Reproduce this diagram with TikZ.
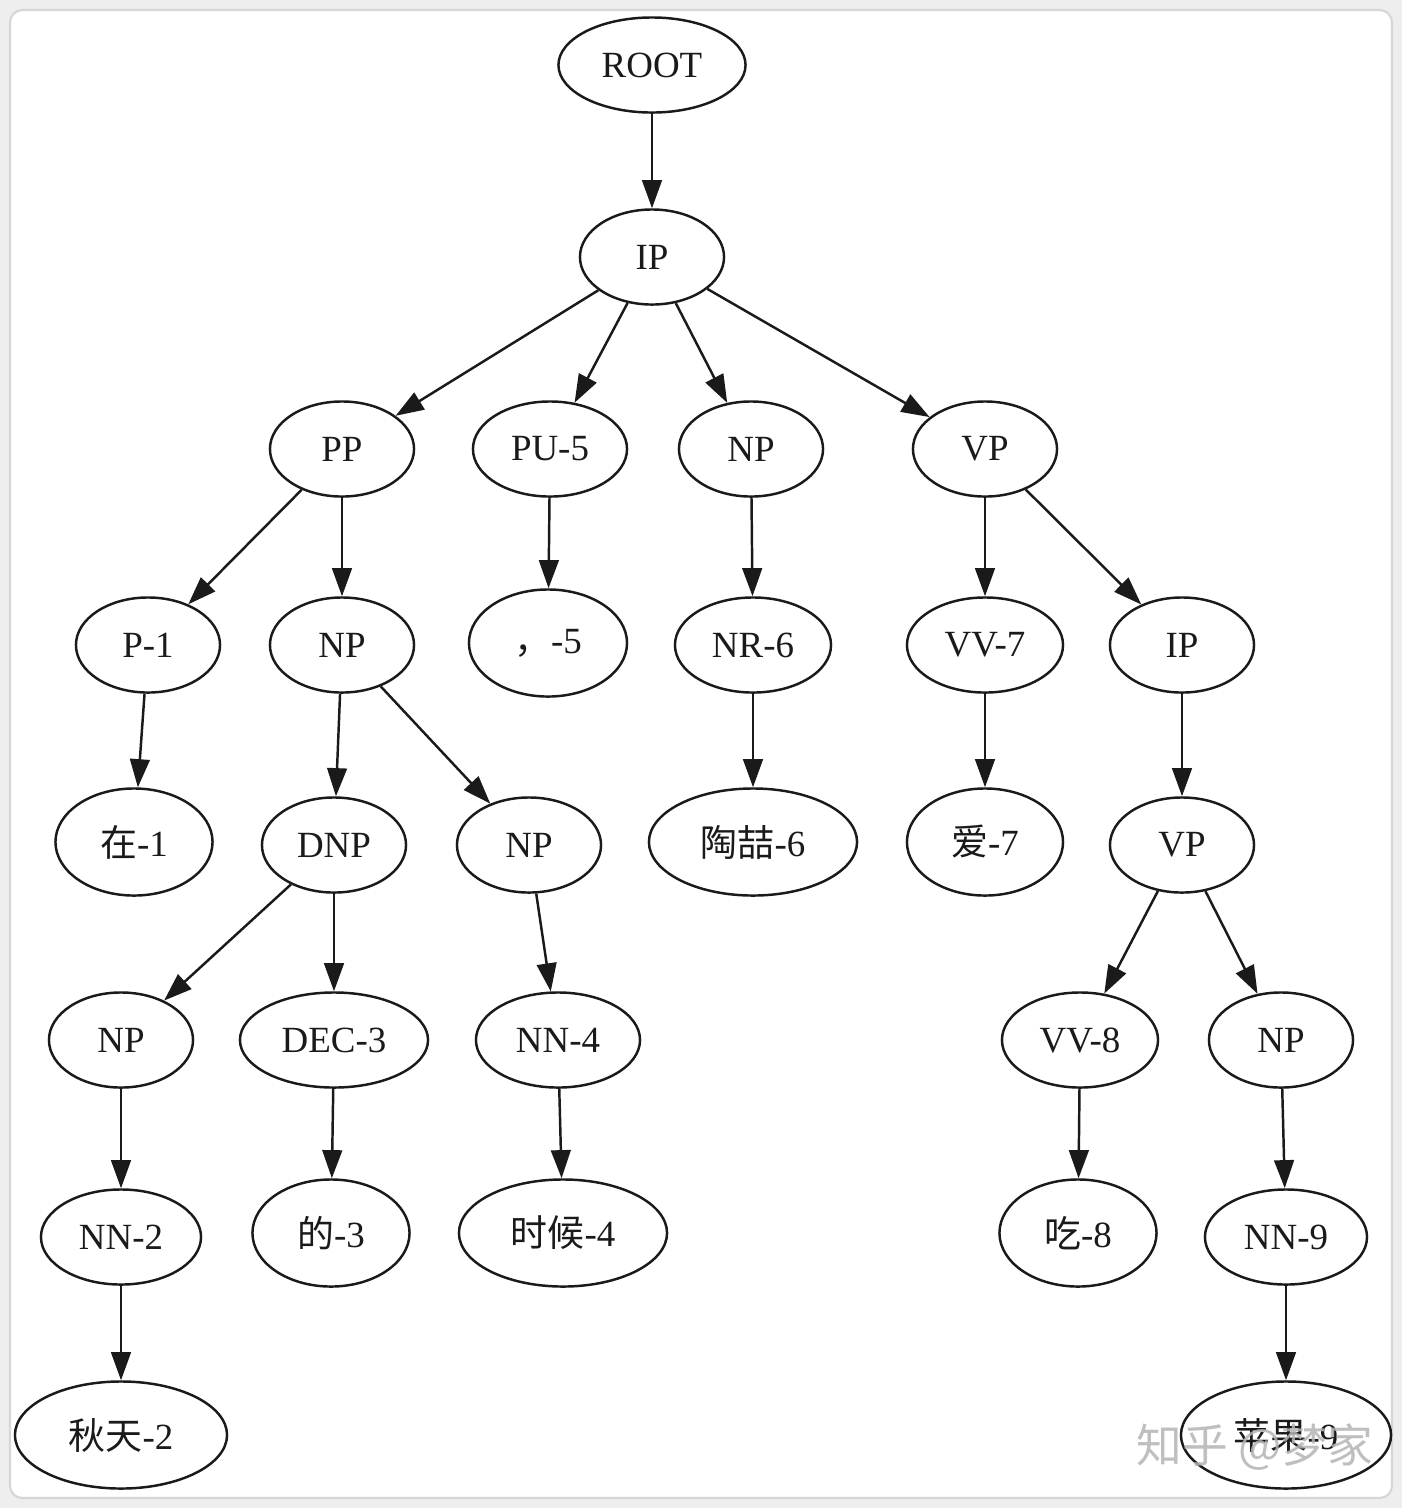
\documentclass[tikz,border=0pt]{standalone}
\usepackage{fontspec}
\setmainfont{Liberation Serif}
\newfontfamily\cjk{Noto Sans CJK SC}
\usetikzlibrary{shapes.geometric, arrows.meta}
\definecolor{psInk}{HTML}{1A1A1A}
\definecolor{psFrame}{HTML}{D6D6D6}
\definecolor{psShade}{HTML}{EEEEEE}
\definecolor{psMark}{HTML}{B4B4B4}
\tikzset{
  psnode/.style={ellipse, draw=psInk, line width=0.7pt, fill=white, text=psInk,
                 inner sep=0pt, minimum width=1.44cm, minimum height=0.95cm,
                 font=\fontsize{10.5}{12}\selectfont},
  psword/.style={psnode, minimum height=1.07cm},
  psflow/.style={-{Triangle[length=8pt, width=5.6pt]}, line width=0.7pt, color=psInk},
}

\begin{document}
\begin{tikzpicture}[x=0.01cm, y=-0.01cm]
  % frame
  \fill[psShade] (0,0) rectangle (1402,1508);
  \filldraw[fill=white, draw=psFrame, line width=0.6pt, rounded corners=3.5pt] (10,10) rectangle (1392,1498);
  \useasboundingbox (0,0) rectangle (1402,1508);
  % levels 0 - 2
  \node[psnode, minimum width=1.87cm] (root) at (652,65) {ROOT};
  \node[psnode] (ip) at (652,257) {IP};
  \node[psnode] (pp) at (342,449) {PP};
  \node[psnode, minimum width=1.54cm] (pu) at (550,449) {PU-5};
  \node[psnode] (np1) at (751,449) {NP};
  \node[psnode] (vp) at (985,449) {VP};
  % level 3
  \node[psnode] (p1) at (148,645) {P-1};
  \node[psnode] (np2) at (342,645) {NP};
  \node[psword, minimum width=1.58cm] (pu5) at (548,643) {{\cjk ，}-5};
  \node[psnode, minimum width=1.56cm] (nr6) at (753,645) {NR-6};
  \node[psnode, minimum width=1.56cm] (vv7) at (985,645) {VV-7};
  \node[psnode] (ip2) at (1182,645) {IP};
  % level 4
  \node[psword, minimum width=1.57cm] (zai1) at (134,842) {{\cjk 在}-1};
  \node[psnode] (dnp) at (334,845) {DNP};
  \node[psnode] (np3) at (529,845) {NP};
  \node[psword, minimum width=2.08cm] (taozhe6) at (753,842) {{\cjk 陶喆}-6};
  \node[psword, minimum width=1.56cm] (ai7) at (985,842) {{\cjk 爱}-7};
  \node[psnode] (vp2) at (1182,845) {VP};
  % level 5
  \node[psnode] (np4) at (121,1040) {NP};
  \node[psnode, minimum width=1.88cm] (dec3) at (334,1040) {DEC-3};
  \node[psnode, minimum width=1.64cm] (nn4) at (558,1040) {NN-4};
  \node[psnode, minimum width=1.56cm] (vv8) at (1080,1040) {VV-8};
  \node[psnode] (np5) at (1281,1040) {NP};
  % level 6
  \node[psnode, minimum width=1.60cm] (nn2) at (121,1237) {NN-2};
  \node[psword, minimum width=1.57cm] (de3) at (331,1233) {{\cjk 的}-3};
  \node[psword, minimum width=2.08cm] (shihou4) at (563,1233) {{\cjk 时候}-4};
  \node[psword, minimum width=1.57cm] (chi8) at (1078,1233) {{\cjk 吃}-8};
  \node[psnode, minimum width=1.62cm] (nn9) at (1286,1237) {NN-9};
  % level 7
  \node[psword, minimum width=2.12cm] (qiutian2) at (121,1435) {{\cjk 秋天}-2};
  \node[psword, minimum width=2.10cm] (pingguo9) at (1286,1435) {{\cjk 苹果}-9};
  % edges
  \draw[psflow](root)--(ip);
  \draw[psflow](ip)--(pp);\draw[psflow](ip)--(pu);\draw[psflow](ip)--(np1);\draw[psflow](ip)--(vp);
  \draw[psflow](pp)--(p1);\draw[psflow](pp)--(np2);\draw[psflow](pu)--(pu5);\draw[psflow](np1)--(nr6);
  \draw[psflow](vp)--(vv7);\draw[psflow](vp)--(ip2);
  \draw[psflow](p1)--(zai1);\draw[psflow](np2)--(dnp);\draw[psflow](np2)--(np3);
  \draw[psflow](nr6)--(taozhe6);\draw[psflow](vv7)--(ai7);\draw[psflow](ip2)--(vp2);
  \draw[psflow](dnp)--(np4);\draw[psflow](dnp)--(dec3);\draw[psflow](np3)--(nn4);
  \draw[psflow](vp2)--(vv8);\draw[psflow](vp2)--(np5);
  \draw[psflow](np4)--(nn2);\draw[psflow](dec3)--(de3);\draw[psflow](nn4)--(shihou4);
  \draw[psflow](vv8)--(chi8);\draw[psflow](np5)--(nn9);
  \draw[psflow](nn2)--(qiutian2);\draw[psflow](nn9)--(pingguo9);
  % watermark
  \node[text=psMark, opacity=0.85, font=\cjk\fontsize{13}{15}\selectfont] (mark) at (1255,1447) {知乎 @梦家};
\end{tikzpicture}
\end{document}
